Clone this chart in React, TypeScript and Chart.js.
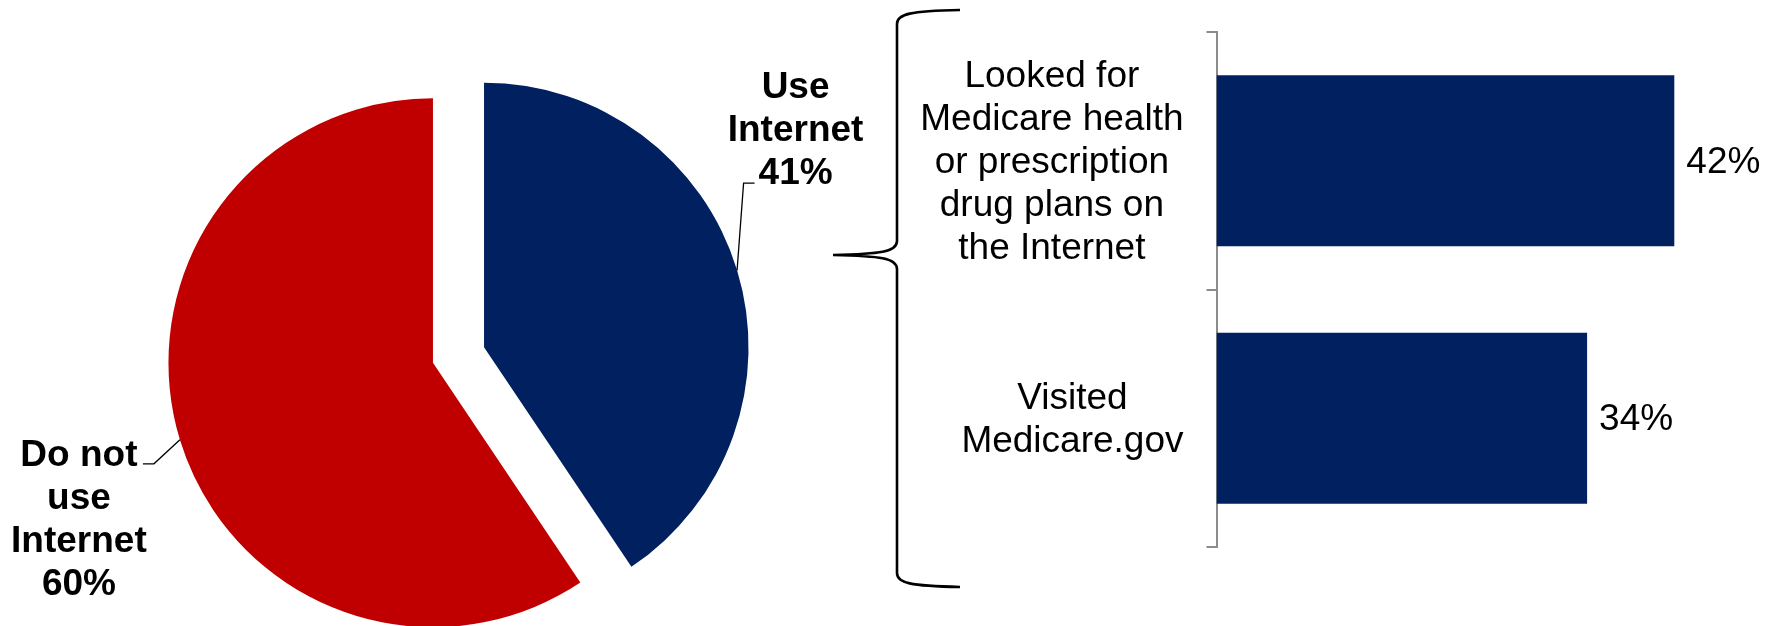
import React, { useEffect, useRef } from "react";
import { Chart, registerables } from "chart.js";

Chart.register(...registerables);

// ---- data ----
const pieLabels: string[][] = [["Use", "Internet"], ["Do not", "use", "Internet"]];
const pieValues: number[] = [41, 60];
const pieColors: string[] = ["#002060", "#C00000"];

const barCategories: string[][] = [
  ["Looked for", "Medicare health", "or prescription", "drug plans on", "the Internet"],
  ["Visited", "Medicare.gov"],
];
const barValues: number[] = [42, 34];
const barColor = "#002060";
const xMin = 0;
const xMax = 50;

// ---- styling / layout ----
const FONT = "'Liberation Sans', Arial, Helvetica, sans-serif";
const FONT_SIZE = 37;
const LINE_H = 43;
const EXPLODE = 26.7;
const PIE_RADIUS = 264.5;

// label placement relative to the slice's mid-angle edge point
const pieLabelLayout = [
  { elbow: [6.5, -87], end: [17.5, -87], text: [58.5, -96], anchor: "bottom" },
  { elbow: [-26, 24], end: [-37, 24], text: [-101, 16], anchor: "top" },
];

const explodePlugin = {
  id: "explode",
  afterDatasetsUpdate(chart: any) {
    const meta = chart.getDatasetMeta(0);
    meta.data.forEach((arc: any) => {
      const mid = (arc.startAngle + arc.endAngle) / 2;
      arc.x += Math.cos(mid) * EXPLODE;
      arc.y += Math.sin(mid) * EXPLODE;
    });
  },
};

const pieLabelPlugin = {
  id: "pieLabels",
  afterDraw(chart: any) {
    const ctx = chart.ctx;
    const meta = chart.getDatasetMeta(0);
    ctx.save();
    meta.data.forEach((arc: any, i: number) => {
      const lay = pieLabelLayout[i];
      const mid = (arc.startAngle + arc.endAngle) / 2;
      const ex = arc.x + Math.cos(mid) * arc.outerRadius;
      const ey = arc.y + Math.sin(mid) * arc.outerRadius;
      ctx.strokeStyle = "#000";
      ctx.lineWidth = 1.3;
      ctx.beginPath();
      ctx.moveTo(ex, ey);
      ctx.lineTo(ex + lay.elbow[0], ey + lay.elbow[1]);
      ctx.lineTo(ex + lay.end[0], ey + lay.end[1]);
      ctx.stroke();
      const lines = [...(chart.data.labels[i] as string[]), `${chart.data.datasets[0].data[i]}%`];
      ctx.fillStyle = "#000";
      ctx.font = `bold ${FONT_SIZE}px ${FONT}`;
      ctx.textAlign = "center";
      ctx.textBaseline = "middle";
      const tx = ex + lay.text[0];
      const y0 =
        lay.anchor === "bottom"
          ? ey + lay.text[1] - LINE_H * (lines.length - 1)
          : ey + lay.text[1];
      lines.forEach((t, k) => ctx.fillText(t, tx, y0 + k * LINE_H));
    });
    ctx.restore();
  },
};

const barLabelPlugin = {
  id: "barLabels",
  afterDraw(chart: any) {
    const ctx = chart.ctx;
    const yScale = chart.scales.y;
    const meta = chart.getDatasetMeta(0);
    ctx.save();
    ctx.fillStyle = "#000";
    ctx.font = `${FONT_SIZE}px ${FONT}`;
    ctx.textBaseline = "middle";
    // category labels: block right-aligned, lines centered within block
    const rightEdge = yScale.left - 23;
    (chart.data.labels as string[][]).forEach((lines, i) => {
      const cy = yScale.getPixelForValue(i);
      const widest = Math.max(...lines.map((l) => ctx.measureText(l).width));
      const cx = rightEdge - widest / 2;
      ctx.textAlign = "center";
      const y0 = cy - ((lines.length - 1) * LINE_H) / 2 + 2;
      lines.forEach((l, k) => ctx.fillText(l, cx, y0 + k * LINE_H));
    });
    // value labels
    ctx.textAlign = "left";
    meta.data.forEach((bar: any, i: number) => {
      ctx.fillText(`${chart.data.datasets[0].data[i]}%`, bar.x + 12, bar.y + 2);
    });
    ctx.restore();
  },
};

const bracePlugin = {
  id: "brace",
  afterDraw(chart: any) {
    const ctx = chart.ctx;
    const a = chart.chartArea;
    const bx = a.left - 319.5;
    const tipX = bx - 64;
    const armX = bx + 63;
    const top = a.top - 22;
    const bottom = a.bottom + 40;
    const tipY = a.top + 223;
    ctx.save();
    ctx.strokeStyle = "#000";
    ctx.lineWidth = 2.6;
    ctx.lineJoin = "round";
    ctx.beginPath();
    ctx.moveTo(armX, top);
    ctx.bezierCurveTo(bx + 13, top + 1, bx, top + 4, bx, top + 14);
    ctx.lineTo(bx, tipY - 14);
    ctx.bezierCurveTo(bx, tipY - 3, bx - 17, tipY - 1, tipX, tipY);
    ctx.moveTo(tipX, tipY);
    ctx.bezierCurveTo(bx - 17, tipY + 1, bx, tipY + 3, bx, tipY + 14);
    ctx.lineTo(bx, bottom - 14);
    ctx.bezierCurveTo(bx, bottom - 4, bx + 13, bottom - 1, armX, bottom);
    ctx.stroke();
    ctx.restore();
  },
};

function PieChart() {
  const ref = useRef<HTMLCanvasElement>(null);
  useEffect(() => {
    if (!ref.current) return;
    const chart = new Chart(ref.current, {
      type: "pie",
      data: {
        labels: pieLabels as any,
        datasets: [{ data: pieValues, backgroundColor: pieColors, borderWidth: 0 }],
      },
      options: {
        animation: false,
        responsive: false,
        radius: PIE_RADIUS,
        layout: { padding: { top: 84, bottom: 0, left: 0, right: 0 } },
        plugins: { legend: { display: false }, tooltip: { enabled: false } },
      } as any,
      plugins: [explodePlugin, pieLabelPlugin],
    });
    return () => chart.destroy();
  }, []);
  return (
    <canvas
      ref={ref}
      width={917}
      height={626}
      style={{ position: "absolute", left: 0, top: 0, width: 917, height: 626 }}
    />
  );
}

function BarChart() {
  const ref = useRef<HTMLCanvasElement>(null);
  useEffect(() => {
    if (!ref.current) return;
    const chart = new Chart(ref.current, {
      type: "bar",
      data: {
        labels: barCategories as any,
        datasets: [
          {
            data: barValues,
            backgroundColor: barColor,
            borderWidth: 0,
            barPercentage: 0.664,
            categoryPercentage: 1,
          },
        ],
      },
      options: {
        indexAxis: "y",
        animation: false,
        responsive: false,
        layout: { padding: { left: 406.5, right: 7.5, top: 32, bottom: 79 } },
        plugins: { legend: { display: false }, tooltip: { enabled: false } },
        scales: {
          x: { display: false, min: xMin, max: xMax },
          y: {
            grid: {
              drawOnChartArea: false,
              drawTicks: true,
              tickLength: 10,
              color: "#8C8C8C",
              lineWidth: 2,
              offset: true,
            },
            border: { display: true, color: "#8C8C8C", width: 2 },
            ticks: { display: false },
          },
        },
      } as any,
      plugins: [barLabelPlugin, bracePlugin],
    });
    return () => chart.destroy();
  }, []);
  return (
    <canvas
      ref={ref}
      width={969}
      height={626}
      style={{ position: "absolute", left: 800, top: 0, width: 969, height: 626 }}
    />
  );
}

export default function App() {
  return (
    <div
      style={{
        position: "absolute",
        left: 0,
        top: 0,
        width: 1769,
        height: 626,
        overflow: "hidden",
        background: "#fff",
      }}
    >
      <PieChart />
      <BarChart />
    </div>
  );
}
